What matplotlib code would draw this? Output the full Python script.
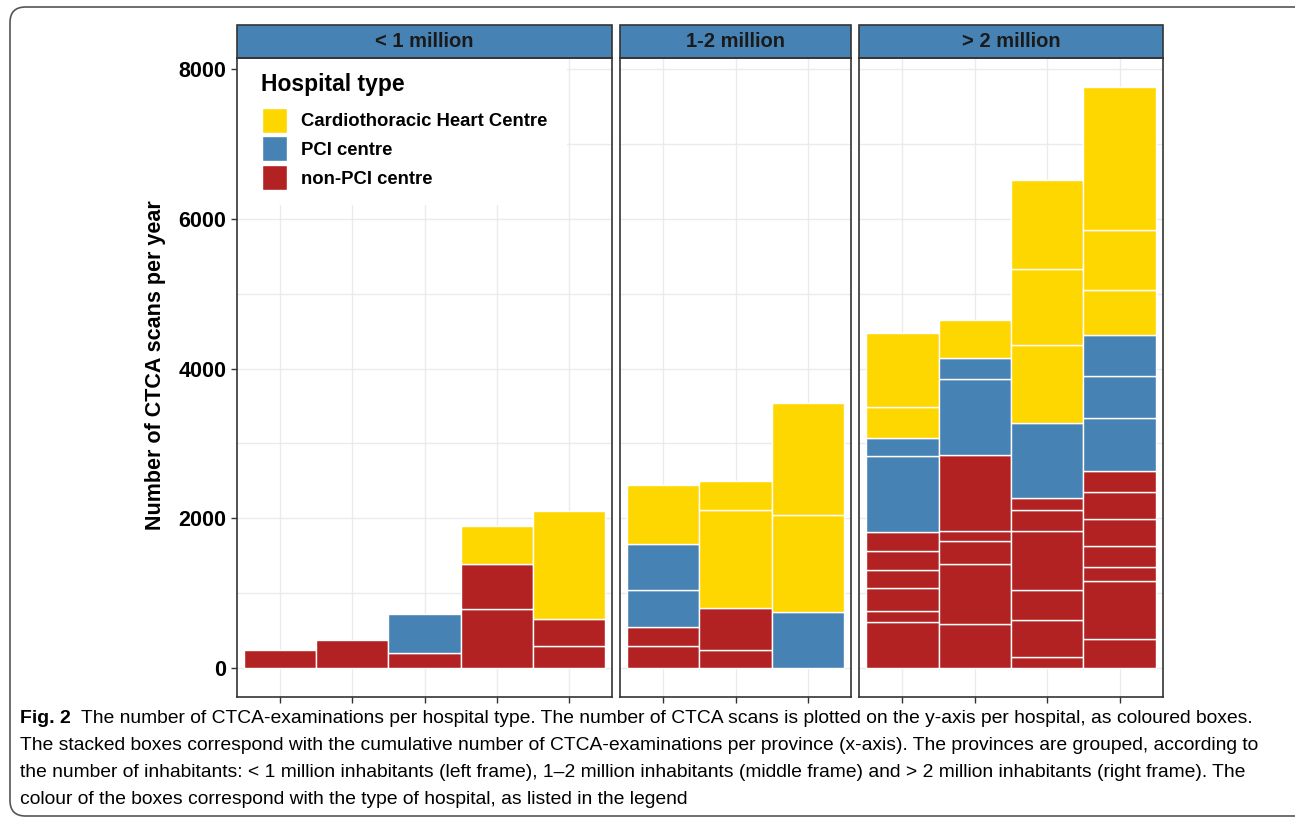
import matplotlib
matplotlib.use("Agg")
import matplotlib.pyplot as plt
from matplotlib.patches import Rectangle, FancyBboxPatch

plt.rcParams['font.family'] = ['Liberation Sans', 'DejaVu Sans']

# Colours per hospital type
col_chc = "#FFD700"
col_pci = "#4682B4"
col_non = "#B22222"

groups = ["< 1 million", "1-2 million", "> 2 million"]
# province -> group index
province_group = [0, 0, 0, 0, 0, 1, 1, 1, 2, 2, 2, 2]

# CTCA scans per hospital, stacked per province (non-PCI, then PCI, then CHC)
non_pci = [[240], [380], [200], [790, 600], [290, 360],
           [290, 255], [245, 560], [],
           [610, 150, 305, 250, 245, 260], [585, 800, 305, 145, 1005],
           [140, 505, 395, 790, 280, 160], [390, 765, 195, 285, 360, 350, 285]]
pci = [[], [], [520], [], [],
       [495, 610], [], [745],
       [1010, 240], [1020, 285], [1005], [715, 555, 545]]
chc = [[], [], [], [500], [1440],
       [790], [1300, 395], [1300, 1500],
       [410, 995], [505], [1045, 1005, 1195], [600, 810, 1905]]

legend_labels = ["Cardiothoracic Heart Centre", "PCI centre", "non-PCI centre"]
legend_colors = [col_chc, col_pci, col_non]

caption_lines = [
    "The number of CTCA-examinations per hospital type. The number of CTCA scans is plotted on the y-axis per hospital, as coloured boxes.",
    "The stacked boxes correspond with the cumulative number of CTCA-examinations per province (x-axis). The provinces are grouped, according to",
    "the number of inhabitants: < 1 million inhabitants (left frame), 1\u20132 million inhabitants (middle frame) and > 2 million inhabitants (right frame). The",
    "colour of the boxes correspond with the type of hospital, as listed in the legend",
]

W, H = 1295, 821
fig = plt.figure(figsize=(W / 100, H / 100), dpi=100)

# outer rounded frame
frame = FancyBboxPatch((10 / W, 5 / H), 1.2, 809 / H, boxstyle="round,pad=0,rounding_size=0.012",
                       transform=fig.transFigure, facecolor="none", edgecolor="#555555", lw=1.2,
                       mutation_aspect=W / H)
fig.patches.append(frame)

panel_px = [(237, 612), (620, 851), (859, 1163)]
top_px, bot_px = 58, 697
grid_c = "#EBEBEB"
axes = []
for g, (x0, x1) in enumerate(panel_px):
    ax = fig.add_axes([x0 / W, (H - bot_px) / H, (x1 - x0) / W, (bot_px - top_px) / H])
    axes.append(ax)
    idx = [i for i, pg in enumerate(province_group) if pg == g]
    n = len(idx)
    for k, i in enumerate(idx):
        xpos = k + 1
        b = 0
        for vals, c in ((non_pci[i], col_non), (pci[i], col_pci), (chc[i], col_chc)):
            for v in vals:
                ax.bar(xpos, v, bottom=b, width=1, color=c, edgecolor="white", linewidth=1, zorder=3)
                b += v
    ax.set_xlim(0.4, n + 0.6)
    ax.set_ylim(-388, 8148)
    ax.set_xticks(range(1, n + 1))
    ax.set_xticklabels([])
    ax.set_yticks([0, 2000, 4000, 6000, 8000])
    ax.set_yticks([1000, 3000, 5000, 7000], minor=True)
    ax.grid(True, which="both", axis="y", color=grid_c, lw=1, zorder=0)
    ax.grid(True, which="major", axis="x", color=grid_c, lw=1, zorder=0)
    ax.tick_params(axis="both", which="major", length=4, color="#333333", width=1)
    ax.tick_params(axis="y", which="minor", length=0)
    if g == 0:
        ax.set_yticklabels(["0", "2000", "4000", "6000", "8000"], fontsize=15.5, fontweight="bold")
    else:
        ax.tick_params(axis="y", which="major", length=0)
        ax.set_yticklabels([])
    for s in ax.spines.values():
        s.set_color("#333333")
        s.set_linewidth(1.2)
        s.set_zorder(7)
    sh = 33 / (bot_px - top_px)
    ax.add_patch(Rectangle((0, 1), 1, sh, transform=ax.transAxes, facecolor=col_pci,
                           edgecolor="#333333", lw=1.2, clip_on=False, zorder=5))
    ax.text(0.5, 1 + sh / 2, groups[g], transform=ax.transAxes, ha="center", va="center",
            fontsize=14.5, fontweight="bold", color="#1A1A1A", zorder=6)

fig.text(155 / W, 1 - 365 / H, "Number of CTCA scans per year", rotation=90, ha="center",
         va="center", fontsize=15.5, fontweight="bold")

# legend drawn inside the first panel (pixel positions -> axes fraction)
ax0 = axes[0]
def px(xp, yp):
    return (xp - 237) / (612 - 237), (bot_px - yp) / (bot_px - top_px)

bx, by = px(237, 205)
ax0.add_patch(Rectangle((bx, by), 330 / 375, (205 - 58) / 639, transform=ax0.transAxes,
                        facecolor="white", edgecolor="none", zorder=4))
tx, ty = px(261, 85)
ax0.text(tx, ty, "Hospital type", transform=ax0.transAxes, ha="left", va="center",
         fontsize=16.5, fontweight="bold", zorder=6)
for j, (lab, c) in enumerate(zip(legend_labels, legend_colors)):
    top = 108 + 28.5 * j
    kx, ky = px(262, top + 25)
    ax0.add_patch(Rectangle((kx, ky), 25 / 375, 25 / 639, transform=ax0.transAxes,
                            facecolor=c, edgecolor="white", lw=1, zorder=6))
    lx, ly = px(301, top + 14)
    ax0.text(lx, ly, lab, transform=ax0.transAxes, ha="left", va="center",
             fontsize=13.3, fontweight="bold", zorder=6)

# caption
cap_font = ['Liberation Sans', 'DejaVu Sans']
line_y = [718, 745, 772, 799]
t0 = fig.text(20 / W, 1 - line_y[0] / H, "Fig. 2", fontsize=14, fontweight="bold", family=cap_font,
              va="center", ha="left")
fig.canvas.draw()
bb = t0.get_window_extent()
fig.text((bb.x1 + 10) / W, 1 - line_y[0] / H, caption_lines[0], fontsize=13.9, family=cap_font,
         va="center", ha="left")
for ln, y in zip(caption_lines[1:], line_y[1:]):
    fig.text(20 / W, 1 - y / H, ln, fontsize=13.9, family=cap_font, va="center", ha="left")

fig.savefig("out.png", dpi=100)
